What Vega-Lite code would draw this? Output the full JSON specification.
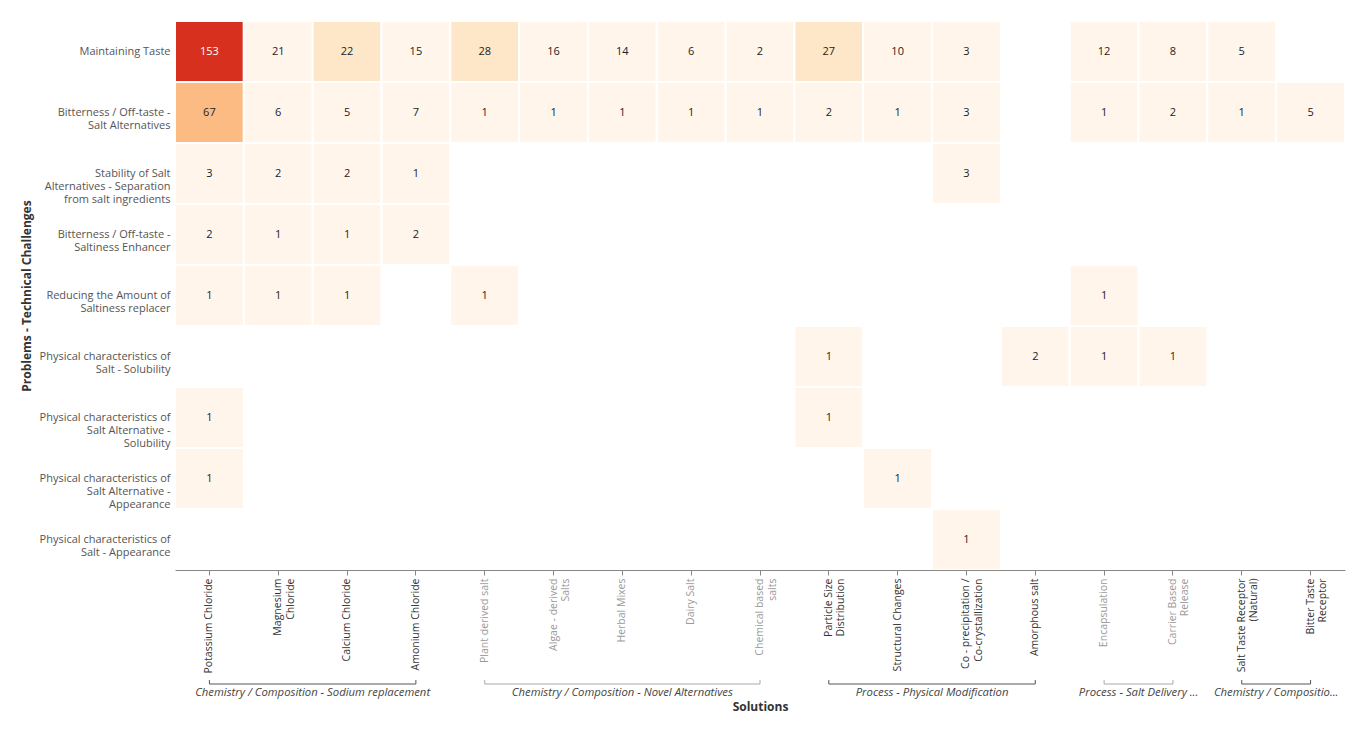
{
  "$schema": "https://vega.github.io/schema/vega-lite/v6.json",
  "padding": {"left": 20, "top": 20, "right": 5, "bottom": 5},
  "background": "white",
  "config": {
    "font": "Open Sans",
    "view": {"stroke": null},
    "axis": {"labelFont": "Open Sans", "titleFont": "Open Sans"}
  },
  "datasets": {
    "cells": [
      {"problem": "Maintaining Taste", "solution": "Potassium Chloride", "count": 153},
      {"problem": "Maintaining Taste", "solution": "Magnesium Chloride", "count": 21},
      {"problem": "Maintaining Taste", "solution": "Calcium Chloride", "count": 22},
      {"problem": "Maintaining Taste", "solution": "Amonium Chloride", "count": 15},
      {"problem": "Maintaining Taste", "solution": "Plant derived salt", "count": 28},
      {"problem": "Maintaining Taste", "solution": "Algae - derived Salts", "count": 16},
      {"problem": "Maintaining Taste", "solution": "Herbal Mixes", "count": 14},
      {"problem": "Maintaining Taste", "solution": "Dairy Salt", "count": 6},
      {"problem": "Maintaining Taste", "solution": "Chemical based salts", "count": 2},
      {"problem": "Maintaining Taste", "solution": "Particle Size Distribution", "count": 27},
      {"problem": "Maintaining Taste", "solution": "Structural Changes", "count": 10},
      {"problem": "Maintaining Taste", "solution": "Co - precipitation / Co-crystallization", "count": 3},
      {"problem": "Maintaining Taste", "solution": "Encapsulation", "count": 12},
      {"problem": "Maintaining Taste", "solution": "Carrier Based Release", "count": 8},
      {"problem": "Maintaining Taste", "solution": "Salt Taste Receptor (Natural)", "count": 5},
      {"problem": "Bitterness / Off-taste - Salt Alternatives", "solution": "Potassium Chloride", "count": 67},
      {"problem": "Bitterness / Off-taste - Salt Alternatives", "solution": "Magnesium Chloride", "count": 6},
      {"problem": "Bitterness / Off-taste - Salt Alternatives", "solution": "Calcium Chloride", "count": 5},
      {"problem": "Bitterness / Off-taste - Salt Alternatives", "solution": "Amonium Chloride", "count": 7},
      {"problem": "Bitterness / Off-taste - Salt Alternatives", "solution": "Plant derived salt", "count": 1},
      {"problem": "Bitterness / Off-taste - Salt Alternatives", "solution": "Algae - derived Salts", "count": 1},
      {"problem": "Bitterness / Off-taste - Salt Alternatives", "solution": "Herbal Mixes", "count": 1},
      {"problem": "Bitterness / Off-taste - Salt Alternatives", "solution": "Dairy Salt", "count": 1},
      {"problem": "Bitterness / Off-taste - Salt Alternatives", "solution": "Chemical based salts", "count": 1},
      {"problem": "Bitterness / Off-taste - Salt Alternatives", "solution": "Particle Size Distribution", "count": 2},
      {"problem": "Bitterness / Off-taste - Salt Alternatives", "solution": "Structural Changes", "count": 1},
      {"problem": "Bitterness / Off-taste - Salt Alternatives", "solution": "Co - precipitation / Co-crystallization", "count": 3},
      {"problem": "Bitterness / Off-taste - Salt Alternatives", "solution": "Encapsulation", "count": 1},
      {"problem": "Bitterness / Off-taste - Salt Alternatives", "solution": "Carrier Based Release", "count": 2},
      {"problem": "Bitterness / Off-taste - Salt Alternatives", "solution": "Salt Taste Receptor (Natural)", "count": 1},
      {"problem": "Bitterness / Off-taste - Salt Alternatives", "solution": "Bitter Taste Receptor", "count": 5},
      {"problem": "Stability of Salt Alternatives - Separation from salt ingredients", "solution": "Potassium Chloride", "count": 3},
      {"problem": "Stability of Salt Alternatives - Separation from salt ingredients", "solution": "Magnesium Chloride", "count": 2},
      {"problem": "Stability of Salt Alternatives - Separation from salt ingredients", "solution": "Calcium Chloride", "count": 2},
      {"problem": "Stability of Salt Alternatives - Separation from salt ingredients", "solution": "Amonium Chloride", "count": 1},
      {"problem": "Stability of Salt Alternatives - Separation from salt ingredients", "solution": "Co - precipitation / Co-crystallization", "count": 3},
      {"problem": "Bitterness / Off-taste - Saltiness Enhancer", "solution": "Potassium Chloride", "count": 2},
      {"problem": "Bitterness / Off-taste - Saltiness Enhancer", "solution": "Magnesium Chloride", "count": 1},
      {"problem": "Bitterness / Off-taste - Saltiness Enhancer", "solution": "Calcium Chloride", "count": 1},
      {"problem": "Bitterness / Off-taste - Saltiness Enhancer", "solution": "Amonium Chloride", "count": 2},
      {"problem": "Reducing the Amount of Saltiness replacer", "solution": "Potassium Chloride", "count": 1},
      {"problem": "Reducing the Amount of Saltiness replacer", "solution": "Magnesium Chloride", "count": 1},
      {"problem": "Reducing the Amount of Saltiness replacer", "solution": "Calcium Chloride", "count": 1},
      {"problem": "Reducing the Amount of Saltiness replacer", "solution": "Plant derived salt", "count": 1},
      {"problem": "Reducing the Amount of Saltiness replacer", "solution": "Encapsulation", "count": 1},
      {"problem": "Physical characteristics of Salt - Solubility", "solution": "Particle Size Distribution", "count": 1},
      {"problem": "Physical characteristics of Salt - Solubility", "solution": "Amorphous salt", "count": 2},
      {"problem": "Physical characteristics of Salt - Solubility", "solution": "Encapsulation", "count": 1},
      {"problem": "Physical characteristics of Salt - Solubility", "solution": "Carrier Based Release", "count": 1},
      {"problem": "Physical characteristics of Salt Alternative - Solubility", "solution": "Potassium Chloride", "count": 1},
      {"problem": "Physical characteristics of Salt Alternative - Solubility", "solution": "Particle Size Distribution", "count": 1},
      {"problem": "Physical characteristics of Salt Alternative - Appearance", "solution": "Potassium Chloride", "count": 1},
      {"problem": "Physical characteristics of Salt Alternative - Appearance", "solution": "Structural Changes", "count": 1},
      {"problem": "Physical characteristics of Salt - Appearance", "solution": "Co - precipitation / Co-crystallization", "count": 1}
    ],
    "groups": [
      {"group": "Chemistry / Composition - Sodium replacement", "first": "Potassium Chloride", "last": "Amonium Chloride"},
      {"group": "Chemistry / Composition - Novel Alternatives", "first": "Plant derived salt", "last": "Chemical based salts"},
      {"group": "Process - Physical Modification", "first": "Particle Size Distribution", "last": "Amorphous salt"},
      {"group": "Process - Salt Delivery ...", "first": "Encapsulation", "last": "Carrier Based Release"},
      {"group": "Chemistry / Compositio...", "first": "Salt Taste Receptor (Natural)", "last": "Bitter Taste Receptor"}
    ]
  },
  "spacing": 4,
  "vconcat": [
    {
      "width": 1170,
      "height": 549,
      "data": {"name": "cells"},
      "encoding": {
        "x": {
          "field": "solution", "type": "nominal",
          "scale": {"domain": ["Potassium Chloride", "Magnesium Chloride", "Calcium Chloride", "Amonium Chloride", "Plant derived salt", "Algae - derived Salts", "Herbal Mixes", "Dairy Salt", "Chemical based salts", "Particle Size Distribution", "Structural Changes", "Co - precipitation / Co-crystallization", "Amorphous salt", "Encapsulation", "Carrier Based Release", "Salt Taste Receptor (Natural)", "Bitter Taste Receptor"], "paddingInner": 0, "paddingOuter": 0},
          "axis": {
            "title": null,
            "labelAngle": 270,
            "labelFontSize": 10.5,
            "labelLineHeight": 12.5,
            "labelPadding": 3,
            "labelLimit": 200,
            "tickSize": 5,
            "tickColor": "#888",
            "domainColor": "#888",
            "labelColor": {"condition": {"test": "indexof(['Plant derived salt','Algae - derived Salts','Herbal Mixes','Dairy Salt','Chemical based salts','Encapsulation','Carrier Based Release'], datum.value) >= 0", "value": "#9a9a9a"}, "value": "#333333"},
            "labelExpr": "({'Magnesium Chloride': ['Magnesium','Chloride'], 'Algae - derived Salts': ['Algae - derived','Salts'], 'Chemical based salts': ['Chemical based','salts'], 'Particle Size Distribution': ['Particle Size','Distribution'], 'Co - precipitation / Co-crystallization': ['Co - precipitation /','Co-crystallization'], 'Carrier Based Release': ['Carrier Based','Release'], 'Salt Taste Receptor (Natural)': ['Salt Taste Receptor','(Natural)'], 'Bitter Taste Receptor': ['Bitter Taste','Receptor']})[datum.value] || datum.value"
          }
        },
        "y": {
          "field": "problem", "type": "nominal",
          "scale": {"domain": ["Maintaining Taste", "Bitterness / Off-taste - Salt Alternatives", "Stability of Salt Alternatives - Separation from salt ingredients", "Bitterness / Off-taste - Saltiness Enhancer", "Reducing the Amount of Saltiness replacer", "Physical characteristics of Salt - Solubility", "Physical characteristics of Salt Alternative - Solubility", "Physical characteristics of Salt Alternative - Appearance", "Physical characteristics of Salt - Appearance"], "paddingInner": 0, "paddingOuter": 0},
          "axis": {
            "title": "Problems - Technical Challenges",
            "titleFontSize": 12,
            "titleFontWeight": "bold",
            "titleColor": "#333333",
            "titlePadding": 6,
            "ticks": false,
            "domain": false,
            "labelFontSize": 11,
            "labelLineHeight": 13,
            "labelPadding": 5,
            "labelLimit": 200,
            "labelColor": "#555555",
            "labelExpr": "({'Bitterness / Off-taste - Salt Alternatives': ['Bitterness / Off-taste -','Salt Alternatives'], 'Stability of Salt Alternatives - Separation from salt ingredients': ['Stability of Salt','Alternatives - Separation','from salt ingredients'], 'Bitterness / Off-taste - Saltiness Enhancer': ['Bitterness / Off-taste -','Saltiness Enhancer'], 'Reducing the Amount of Saltiness replacer': ['Reducing the Amount of','Saltiness replacer'], 'Physical characteristics of Salt - Solubility': ['Physical characteristics of','Salt - Solubility'], 'Physical characteristics of Salt Alternative - Solubility': ['Physical characteristics of','Salt Alternative -','Solubility'], 'Physical characteristics of Salt Alternative - Appearance': ['Physical characteristics of','Salt Alternative -','Appearance'], 'Physical characteristics of Salt - Appearance': ['Physical characteristics of','Salt - Appearance']})[datum.value] || datum.value"
          }
        }
      },
      "layer": [
        {
          "mark": {"type": "rect", "stroke": "white", "strokeWidth": 2},
          "encoding": {
            "color": {
              "field": "count", "type": "quantitative",
              "scale": {"type": "threshold", "domain": [22, 50, 100], "range": ["#fff5eb", "#fee7c8", "#fdbb84", "#d7301f"]},
              "legend": null
            }
          }
        },
        {
          "mark": {"type": "text", "fontSize": 11},
          "encoding": {
            "text": {"field": "count", "type": "quantitative"},
            "color": {"condition": {"test": "datum.count >= 100", "value": "white"}, "value": "#222222"}
          }
        }
      ]
    },
    {
      "width": 1170,
      "height": 20,
      "data": {"name": "groups"},
      "encoding": {
        "x": {
          "field": "first", "type": "nominal",
          "scale": {"domain": ["Potassium Chloride", "Magnesium Chloride", "Calcium Chloride", "Amonium Chloride", "Plant derived salt", "Algae - derived Salts", "Herbal Mixes", "Dairy Salt", "Chemical based salts", "Particle Size Distribution", "Structural Changes", "Co - precipitation / Co-crystallization", "Amorphous salt", "Encapsulation", "Carrier Based Release", "Salt Taste Receptor (Natural)", "Bitter Taste Receptor"], "paddingInner": 0, "paddingOuter": 0},
          "axis": {"title": "Solutions", "labels": false, "ticks": false, "domain": false, "titleFontSize": 12, "titleFontWeight": "bold", "titleColor": "#333333", "titlePadding": 3}
        },
        "color": {
          "field": "group", "type": "nominal",
          "scale": {"domain": ["Chemistry / Composition - Sodium replacement", "Chemistry / Composition - Novel Alternatives", "Process - Physical Modification", "Process - Salt Delivery ...", "Chemistry / Compositio..."], "range": ["#555555", "#aaaaaa", "#555555", "#aaaaaa", "#555555"]},
          "legend": null
        }
      },
      "layer": [
        {
          "mark": {"type": "rule", "strokeWidth": 1},
          "encoding": {"x2": {"field": "last"}, "y": {"value": 6}}
        },
        {
          "mark": {"type": "rule", "strokeWidth": 1},
          "encoding": {"y": {"value": 2}, "y2": {"value": 6}}
        },
        {
          "mark": {"type": "rule", "strokeWidth": 1},
          "encoding": {"x": {"field": "last", "type": "nominal"}, "y": {"value": 2}, "y2": {"value": 6}}
        },
        {
          "transform": [{"filter": "indexof(['Chemistry / Composition - Sodium replacement','Process - Physical Modification'], datum.group) >= 0"}],
          "mark": {"type": "text", "fontSize": 11.3, "fontStyle": "italic", "baseline": "middle"},
          "encoding": {"x": {"field": "first", "type": "nominal", "bandPosition": 2}, "y": {"value": 15}, "text": {"field": "group"}, "color": {"value": "#444444"}}
        },
        {
          "transform": [{"filter": "datum.group == 'Chemistry / Composition - Novel Alternatives'"}],
          "mark": {"type": "text", "fontSize": 11.3, "fontStyle": "italic", "baseline": "middle"},
          "encoding": {"x": {"field": "first", "type": "nominal", "bandPosition": 2.5}, "y": {"value": 15}, "text": {"field": "group"}, "color": {"value": "#444444"}}
        },
        {
          "transform": [{"filter": "indexof(['Process - Salt Delivery ...','Chemistry / Compositio...'], datum.group) >= 0"}],
          "mark": {"type": "text", "fontSize": 11.3, "fontStyle": "italic", "baseline": "middle"},
          "encoding": {"x": {"field": "first", "type": "nominal", "bandPosition": 1}, "y": {"value": 15}, "text": {"field": "group"}, "color": {"value": "#444444"}}
        }
      ]
    }
  ]
}
